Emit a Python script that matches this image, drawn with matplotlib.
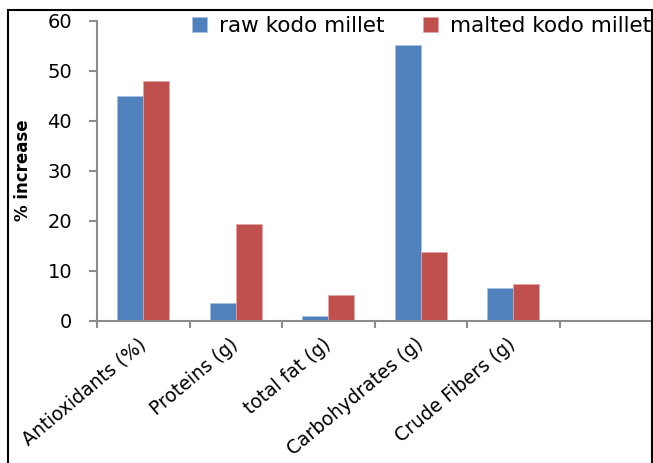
import numpy as np
import matplotlib.pyplot as plt
import matplotlib.transforms as mtransforms
from matplotlib.patches import Rectangle

plt.rcParams['font.family'] = ['DejaVu Sans']

categories = ['Antioxidants (%)', 'Proteins (g)', 'total fat (g)',
              'Carbohydrates (g)', 'Crude Fibers (g)']
raw = [45, 3.7, 1.1, 55.2, 6.7]
malted = [48, 19.5, 5.2, 13.9, 7.5]
series_names = ['raw kodo millet', 'malted kodo millet']

fig = plt.figure(figsize=(6.53, 4.63), dpi=100)
ax = fig.add_axes([97 / 653, 1 - 321 / 463, 555 / 653, 300 / 463])

x = np.arange(len(categories))
w = 0.28
ax.bar(x - w / 2, raw, w, color='#4F81BD', edgecolor='#A9C1E0', lw=0.5,
       label=series_names[0])
ax.bar(x + w / 2, malted, w, color='#C0504D', edgecolor='#E2A6A4', lw=0.5,
       label=series_names[1])

# six slots, the last one left empty
ax.set_xlim(-0.5, 5.5)
ax.set_ylim(0, 60)
ax.set_yticks(range(0, 61, 10))
ax.set_xticks(np.arange(-0.5, 5.6, 1))
ax.set_xticks(x, minor=True)
ax.set_xticklabels([])
ax.set_xticklabels(categories, minor=True, rotation=40, ha='right', va='center',
                   rotation_mode='anchor', fontsize=13.5)
shift = mtransforms.ScaledTranslation(6 / 100, 0, fig.dpi_scale_trans)
for lbl in ax.get_xticklabels(minor=True):
    lbl.set_transform(lbl.get_transform() + shift)
ax.tick_params(axis='x', which='minor', length=0, pad=15)
ax.tick_params(axis='x', which='major', length=5, color='#8c8c8c', width=1.5)
ax.tick_params(axis='y', length=6, color='#8c8c8c', width=1.5, labelsize=14,
               pad=12)

for s in ['top', 'right']:
    ax.spines[s].set_visible(False)
for s in ['left', 'bottom']:
    ax.spines[s].set_color('#8c8c8c')
    ax.spines[s].set_linewidth(1.5)

fig.text(23 / 653, 1 - 170 / 463, '% increase', rotation=90, ha='center',
         va='center', fontsize=12, fontweight='bold')

ax.legend(loc='center right', bbox_to_anchor=(651 / 653, 1 - 26 / 463),
          bbox_transform=fig.transFigure, ncol=2, frameon=False, fontsize=15.5,
          borderpad=0, borderaxespad=0, handlelength=0.7, handleheight=0.7,
          columnspacing=1.8, handletextpad=0.55)

fig.patches.append(Rectangle((8 / 653, -0.1), 644 / 653, 1.1 - 10 / 463,
                             transform=fig.transFigure, fill=False,
                             edgecolor='black', lw=1.5))

fig.savefig('out.png', dpi=100)
